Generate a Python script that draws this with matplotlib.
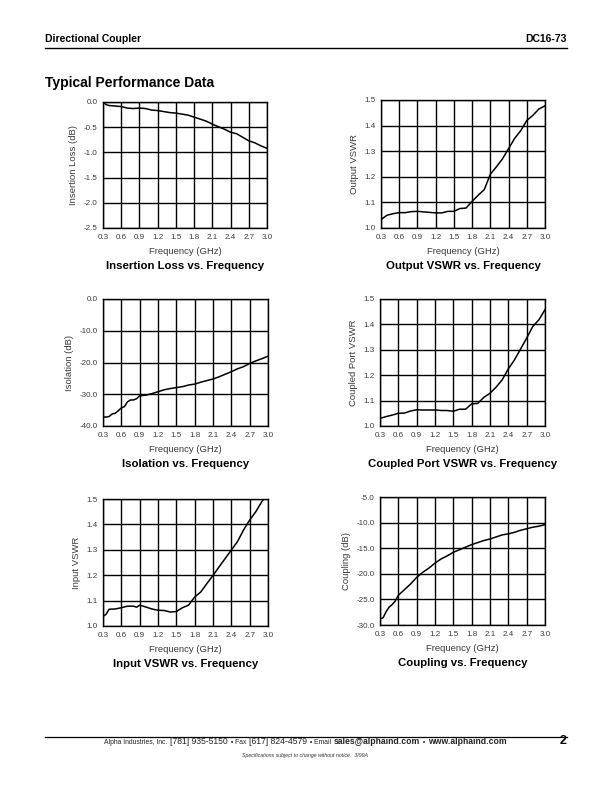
import matplotlib
matplotlib.use("Agg")
import matplotlib.pyplot as plt
import numpy as np

plt.rcParams['font.family'] = ['Liberation Sans', 'DejaVu Sans']

W, H = 612, 792

# ---------------- data ----------------
freq_il = [0.3, 0.35, 0.4, 0.5, 0.6, 0.7, 0.8, 0.9, 1.0, 1.1, 1.2, 1.3, 1.4, 1.5, 1.6, 1.7,
           1.8, 1.9, 2.0, 2.1, 2.2, 2.3, 2.4, 2.5, 2.6, 2.7, 2.8, 2.9, 3.0]
insertion_loss = [0.0, -0.05, -0.07, -0.08, -0.09, -0.12, -0.13, -0.12, -0.13, -0.16, -0.17, -0.19,
                  -0.21, -0.22, -0.24, -0.26, -0.30, -0.34, -0.38, -0.44, -0.49, -0.54, -0.60,
                  -0.63, -0.70, -0.77, -0.81, -0.87, -0.92]

freq_out = [0.3, 0.4, 0.5, 0.6, 0.7, 0.8, 0.9, 1.0, 1.1, 1.2, 1.3, 1.4, 1.5, 1.6, 1.7, 1.8,
            1.9, 2.0, 2.1, 2.2, 2.3, 2.4, 2.5, 2.6, 2.7, 2.8, 2.9, 3.0]
output_vswr = [1.033, 1.050, 1.056, 1.060, 1.060, 1.064, 1.065, 1.063, 1.061, 1.059, 1.059, 1.065,
               1.065, 1.076, 1.078, 1.104, 1.128, 1.150, 1.210, 1.239, 1.270, 1.310, 1.350,
               1.380, 1.420, 1.440, 1.465, 1.477]

freq_iso = [0.3, 0.35, 0.4, 0.45, 0.5, 0.55, 0.6, 0.65, 0.7, 0.75, 0.8, 0.85, 0.9, 1.0, 1.1,
            1.2, 1.3, 1.4, 1.5, 1.6, 1.7, 1.8, 1.9, 2.0, 2.1, 2.2, 2.3, 2.4, 2.5, 2.6, 2.7,
            2.8, 2.9, 3.0]
isolation = [-37.1, -37.2, -37.0, -36.2, -36.0, -35.2, -34.3, -33.9, -32.4, -31.8, -31.8, -31.4,
             -30.5, -30.3, -29.8, -29.2, -28.6, -28.2, -27.9, -27.6, -27.1, -26.8, -26.2,
             -25.7, -25.2, -24.5, -23.7, -22.9, -22.0, -21.3, -20.3, -19.5, -18.8, -18.0]

freq_cpl_vswr = [0.3, 0.4, 0.5, 0.6, 0.7, 0.8, 0.9, 1.0, 1.1, 1.2, 1.3, 1.4, 1.5, 1.6, 1.7,
                 1.8, 1.9, 2.0, 2.1, 2.2, 2.3, 2.4, 2.5, 2.6, 2.7, 2.8, 2.9, 3.0]
coupled_vswr = [1.030, 1.037, 1.043, 1.050, 1.051, 1.059, 1.064, 1.063, 1.063, 1.063, 1.061,
                1.061, 1.058, 1.066, 1.066, 1.087, 1.089, 1.113, 1.129, 1.153, 1.182, 1.225,
                1.260, 1.303, 1.346, 1.392, 1.418, 1.458]

freq_in = [0.3, 0.35, 0.4, 0.5, 0.6, 0.7, 0.8, 0.85, 0.9, 1.0, 1.1, 1.2, 1.3, 1.4, 1.5, 1.6,
           1.7, 1.8, 1.9, 2.0, 2.1, 2.2, 2.3, 2.4, 2.5, 2.6, 2.7, 2.8, 2.9, 2.93]
input_vswr = [1.038, 1.046, 1.066, 1.067, 1.072, 1.078, 1.078, 1.074, 1.082, 1.075, 1.067,
              1.062, 1.061, 1.055, 1.057, 1.072, 1.082, 1.114, 1.134, 1.167, 1.199, 1.233,
              1.266, 1.299, 1.332, 1.378, 1.417, 1.450, 1.490, 1.500]

freq_cpl = [0.3, 0.35, 0.4, 0.45, 0.5, 0.55, 0.6, 0.7, 0.8, 0.9, 1.0, 1.1, 1.2, 1.3, 1.4,
            1.5, 1.6, 1.7, 1.8, 1.9, 2.0, 2.1, 2.2, 2.3, 2.4, 2.5, 2.6, 2.7, 2.8, 2.9, 3.0]
coupling = [-28.8, -28.6, -27.4, -26.5, -26.0, -25.3, -24.2, -23.1, -22.0, -20.7, -19.7,
            -18.9, -17.9, -17.1, -16.5, -15.8, -15.3, -14.8, -14.3, -13.9, -13.5, -13.2,
            -12.8, -12.4, -12.2, -11.9, -11.5, -11.2, -10.9, -10.7, -10.4]

x_ticks = [0.3, 0.6, 0.9, 1.2, 1.5, 1.8, 2.1, 2.4, 2.7, 3.0]
x_ticklabels = ["0.3", "0.6", "0.9", "1.2", "1.5", "1.8", "2.1", "2.4", "2.7", "3.0"]
vswr_ticks = [1.0, 1.1, 1.2, 1.3, 1.4, 1.5]
vswr_ticklabels = ["1.0", "1.1", "1.2", "1.3", "1.4", "1.5"]
il_ticks = [-2.5, -2.0, -1.5, -1.0, -0.5, 0.0]
il_ticklabels = ["-2.5", "-2.0", "-1.5", "-1.0", "-0.5", "0.0"]
iso_ticks = [-40, -30, -20, -10, 0]
iso_ticklabels = ["-40.0", "-30.0", "-20.0", "-10.0", "0.0"]
cpl_ticks = [-30, -25, -20, -15, -10, -5]
cpl_ticklabels = ["-30.0", "-25.0", "-20.0", "-15.0", "-10.0", "-5.0"]

footer_pieces = [
    ("Alpha Industries, Inc. ", 4.9, "normal"),
    ("[781] 935-5150", 6.2, "normal"),
    (" \u2022 Fax ", 4.9, "normal"),
    ("[617] 824-4579", 6.2, "normal"),
    (" \u2022 Email ", 4.9, "normal"),
    ("sales@alphaind.com", 6.2, "bold"),
    (" \u2022 ", 4.9, "normal"),
    ("www.alphaind.com", 6.2, "bold"),
]

# ---------------- figure ----------------
fig = plt.figure(figsize=(W / 100, H / 100), dpi=100)


def fx(x):
    return x / W


def fy(y):
    return 1 - y / H


GRAY = "#3a3a3a"


def panel(x0, y0, x1, y1, xs, ys, yticks, yticklabels, ylabel, title):
    ax = fig.add_axes([fx(x0), fy(y1), (x1 - x0) / W, (y1 - y0) / H])
    ax.plot(xs, ys, color="black", lw=1.1, clip_on=True, zorder=3)
    ax.set_xlim(0.3, 3.0)
    ax.set_ylim(yticks[0], yticks[-1])
    ax.set_xticks(x_ticks)
    ax.set_xticklabels(x_ticklabels)
    ax.set_yticks(yticks)
    ax.set_yticklabels(yticklabels)
    ax.grid(True, color="black", lw=1.0)
    for s in ax.spines.values():
        s.set_linewidth(1.0)
    ax.tick_params(length=0, labelsize=5.8, labelcolor=GRAY, pad=4)
    ax.set_xlabel("Frequency (GHz)", fontsize=6.8, color=GRAY, labelpad=4.5)
    ax.set_ylabel(ylabel, fontsize=6.8, color=GRAY, labelpad=4)
    fig.text(fx((x0 + x1) / 2), fy(y1 + 38), title, fontsize=8.2, fontweight="bold",
             ha="center", va="center")
    return ax


panel(103, 102, 267, 228, freq_il, insertion_loss, il_ticks, il_ticklabels,
      "Insertion Loss (dB)", "Insertion Loss vs. Frequency")
panel(381, 100, 545, 228, freq_out, output_vswr, vswr_ticks, vswr_ticklabels,
      "Output VSWR", "Output VSWR vs. Frequency")
panel(103, 299, 268, 426, freq_iso, isolation, iso_ticks, iso_ticklabels,
      "Isolation (dB)", "Isolation vs. Frequency")
panel(380, 299, 545, 426, freq_cpl_vswr, coupled_vswr, vswr_ticks, vswr_ticklabels,
      "Coupled Port VSWR", "Coupled Port VSWR vs. Frequency")
panel(103, 499, 268, 626, freq_in, input_vswr, vswr_ticks, vswr_ticklabels,
      "Input VSWR", "Input VSWR vs. Frequency")
panel(380, 497, 545, 625, freq_cpl, coupling, cpl_ticks, cpl_ticklabels,
      "Coupling (dB)", "Coupling vs. Frequency")

# ---------------- header ----------------
fig.text(fx(45), fy(39), "Directional Coupler", fontsize=7.5, fontweight="bold",
         ha="left", va="center")
fig.text(fx(567), fy(39), "DC16-73", fontsize=7.5, fontweight="bold",
         ha="right", va="center")
fig.add_artist(plt.Line2D([fx(45), fx(567)], [fy(47.5), fy(47.5)], color="black", lw=1.0))
fig.text(fx(45), fy(83), "Typical Performance Data", fontsize=10, fontweight="bold",
         family=["Liberation Sans Narrow", "Liberation Sans", "DejaVu Sans"],
         ha="left", va="center")

# ---------------- footer ----------------
fig.add_artist(plt.Line2D([fx(45), fx(567)], [fy(736.5), fy(736.5)], color="black", lw=0.9))

fig.canvas.draw()
renderer = fig.canvas.get_renderer()


def text_width(s, size, weight):
    t = fig.text(0, 0, s, fontsize=size, fontweight=weight)
    w = t.get_window_extent(renderer).width
    t.remove()
    return w


GAP = 0.9
widths = []
for txt, size, weight in footer_pieces:
    w = text_width("|" + txt + "|", size, weight) - text_width("||", size, weight)
    widths.append(w + GAP)
total = sum(widths)
x = 306 - total / 2
for (txt, size, weight), w in zip(footer_pieces, widths):
    fig.text(fx(x), fy(744.5), txt, fontsize=size, fontweight=weight, ha="left",
             va="baseline", color="#222222")
    x += w

fig.text(fx(566), fy(741), "2", fontsize=9, fontweight="bold", ha="right", va="center")
fig.text(fx(305), fy(756), "Specifications subject to change without notice.  3/99A",
         fontsize=3.8, style="italic", ha="center", va="center", color="#333333")

fig.savefig("out.png", dpi=100)
